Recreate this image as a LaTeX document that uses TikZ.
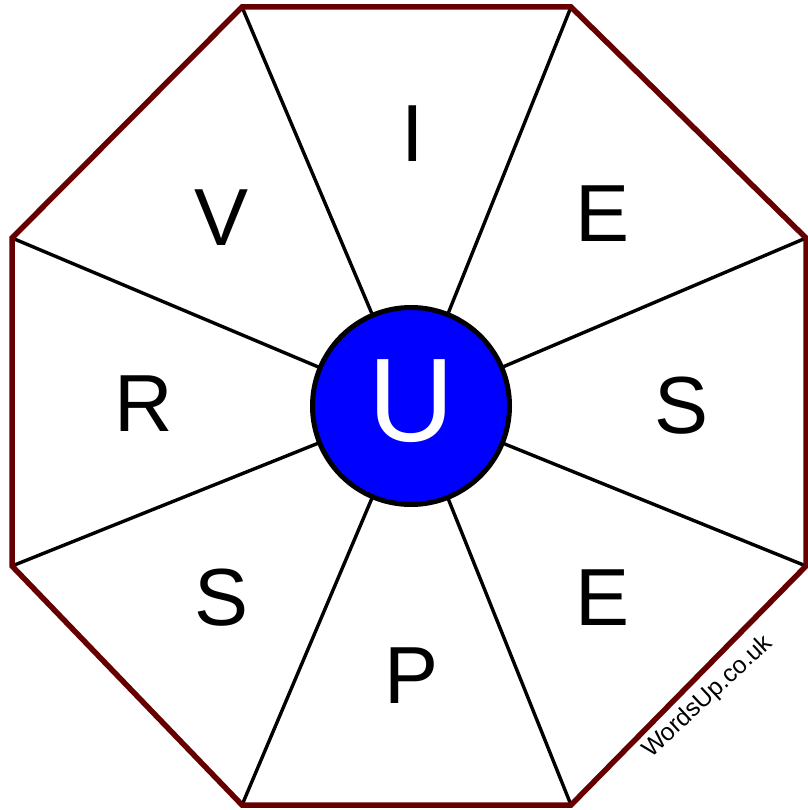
\documentclass[tikz,border=0pt]{standalone}
\usepackage{fontspec}
\setmainfont{Liberation Sans}
\definecolor{rim}{RGB}{102,0,0}
\definecolor{hub}{RGB}{0,0,255}
\tikzset{
  rimline/.style={draw=rim,line width=5.5pt,line join=miter},
  spoke/.style={draw=black,line width=3.4pt},
  letter/.style={inner sep=0pt,font=\fontsize{81}{81}\selectfont},
  hubcircle/.style={circle,fill=hub,draw=black,line width=5pt,minimum size=197pt,inner sep=0pt},
  hubletter/.style={inner sep=0pt,text=white,font=\fontsize{119}{119}\selectfont},
  mark wm/.style={inner sep=0pt,font=\fontsize{24.5}{24.5}\selectfont,rotate=43}
}
\begin{document}
\begin{tikzpicture}[x=1pt,y=-1pt]
\useasboundingbox (0,0) rectangle (807,810);
\fill[white] (0,0) rectangle (807,810);
\coordinate (c) at (411,406);
\coordinate (v1) at (242,7);
\coordinate (v2) at (571,7);
\coordinate (v3) at (806,238);
\coordinate (v4) at (806,566);
\coordinate (v5) at (571,805);
\coordinate (v6) at (242,805);
\coordinate (v7) at (12,566);
\coordinate (v8) at (12,238);
\foreach \v in {v1,v2,v3,v4,v5,v6,v7,v8} \draw[spoke] (c) -- (\v);
\draw[rimline] (v1) -- (v2) -- (v3) -- (v4) -- (v5) -- (v6) -- (v7) -- (v8) -- cycle;
\node[hubcircle] (hub) at (c) {};
\node[hubletter] (u) at (411,401) {U};
\node[letter] (l1) at (413,134) {I};
\node[letter] (l2) at (603,214) {E};
\node[letter] (l3) at (682,406) {S};
\node[letter] (l4) at (603,598) {E};
\node[letter] (l5) at (412,676) {P};
\node[letter] (l6) at (222,598) {S};
\node[letter] (l7) at (144,404) {R};
\node[letter] (l8) at (222,218) {V};
\node[mark wm] (wm) at (708,697) {WordsUp.co.uk};
\end{tikzpicture}
\end{document}
